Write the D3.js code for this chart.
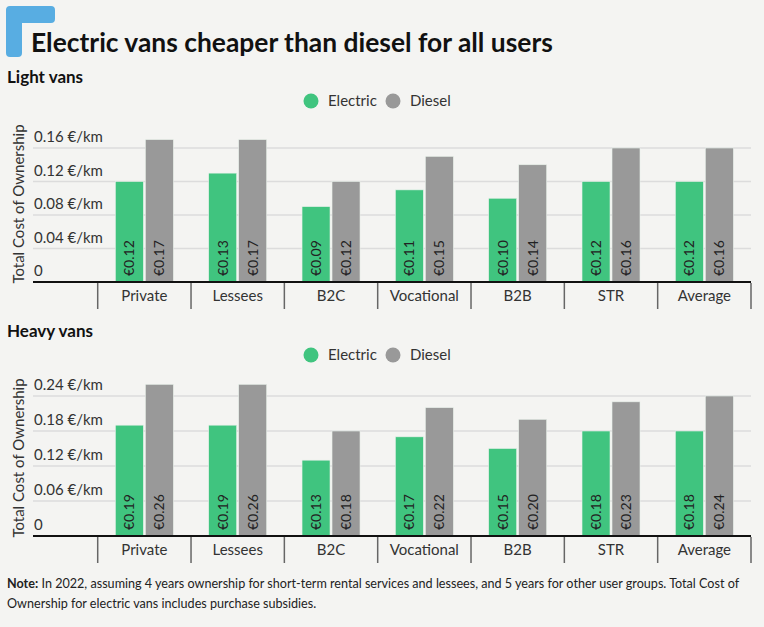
<!DOCTYPE html>
<html>
<head>
<meta charset="utf-8">
<script src="https://cdn.jsdelivr.net/npm/d3@7"></script>
<style>
  html, body { margin: 0; padding: 0; background: #f4f4f2; }
  svg { display: block; font-family: "Source Sans Pro", Lato, "Noto Sans", sans-serif; }
</style>
</head>
<body>
<svg id="chart" width="764" height="627"></svg>
<script>
const categories = ["Private", "Lessees", "B2C", "Vocational", "B2B", "STR", "Average"];
const seriesNames = ["Electric", "Diesel"];
const lightElectric = [0.12, 0.13, 0.09, 0.11, 0.10, 0.12, 0.12];
const lightDiesel   = [0.17, 0.17, 0.12, 0.15, 0.14, 0.16, 0.16];
const heavyElectric = [0.19, 0.19, 0.13, 0.17, 0.15, 0.18, 0.18];
const heavyDiesel   = [0.26, 0.26, 0.18, 0.22, 0.20, 0.23, 0.24];
const lightTicks = [0, 0.04, 0.08, 0.12, 0.16];
const heavyTicks = [0, 0.06, 0.12, 0.18, 0.24];
const colors = { Electric: "#40c47f", Diesel: "#999999" };

const svg = d3.select("#chart");
svg.append("rect").attr("width", 764).attr("height", 627).attr("fill", "#f4f4f2");

// Logo corner
svg.append("path")
  .attr("d", "M6,10 Q6,6 10,6 L51,6 Q55,6 55,10 L55,19 Q55,23 51,23 L22,23 L22,53 Q22,57 18,57 L10,57 Q6,57 6,53 Z")
  .attr("fill", "#58ade2");

svg.append("text").attr("x", 31).attr("y", 52)
  .attr("font-size", 26.4).attr("font-weight", 700).attr("fill", "#111")
  .text("Electric vans cheaper than diesel for all users");

function drawPanel(cfg) {
  const g = svg.append("g");
  g.append("text").attr("x", 7).attr("y", cfg.subY)
    .attr("font-size", 17).attr("font-weight", 700).attr("fill", "#111").text(cfg.title);

  // legend
  const leg = g.append("g").attr("transform", `translate(0,${cfg.legY})`);
  const legX = { Electric: [311, 328], Diesel: [393, 410] };
  seriesNames.forEach(s => {
    leg.append("circle").attr("cx", legX[s][0]).attr("cy", 0).attr("r", 7.5).attr("fill", colors[s]);
    leg.append("text").attr("x", legX[s][1]).attr("y", 5).attr("font-size", 15).attr("fill", "#333").text(s);
  });

  const y = d3.scaleLinear().domain([0, cfg.ticks[cfg.ticks.length - 1]]).range([cfg.zeroY, cfg.topY]);
  const x = d3.scaleBand().domain(categories).range([97.7, 751]).paddingInner(0).paddingOuter(0);
  const x1 = d3.scaleBand().domain(seriesNames).range([0, x.bandwidth()]).paddingInner(1 / 15).paddingOuter(0.589);

  // grid lines + tick labels
  cfg.ticks.forEach(t => {
    if (t > 0) {
      g.append("line").attr("x1", 33).attr("x2", 751).attr("y1", y(t)).attr("y2", y(t))
        .attr("stroke", "#dcdcdc").attr("stroke-width", 1.5);
    }
    g.append("text").attr("x", 34).attr("y", y(t) - 6).attr("font-size", 15).attr("fill", "#333")
      .text(t === 0 ? "0" : d3.format(".2f")(t) + " €/km");
  });

  // bars
  const data = categories.map((c, i) => ({ cat: c, Electric: cfg.electric[i], Diesel: cfg.diesel[i] }));
  const groups = g.selectAll(".grp").data(data).enter().append("g")
    .attr("transform", d => `translate(${x(d.cat)},0)`);
  seriesNames.forEach(s => {
    groups.append("rect")
      .attr("x", x1(s)).attr("width", x1.bandwidth())
      .attr("y", d => y(d[s])).attr("height", d => y(0) - y(d[s]))
      .attr("fill", colors[s]).attr("stroke", "#e8f0ea").attr("stroke-width", 0.6);
    groups.append("text")
      .attr("transform", d => `translate(${x1(s) + x1.bandwidth() / 2 + 5},${y(0) - 6}) rotate(-90)`)
      .attr("font-size", 14).attr("fill", "#222")
      .text(d => "€" + d3.format(".2f")(d[s]));
  });

  // zero axis
  g.append("line").attr("x1", 33).attr("x2", 751).attr("y1", y(0)).attr("y2", y(0))
    .attr("stroke", "#111").attr("stroke-width", 2);

  // category separators
  const bounds = categories.map(c => x(c)).concat([x.range()[1]]);
  bounds.forEach(b => {
    g.append("line").attr("x1", b).attr("x2", b).attr("y1", y(0) + 1).attr("y2", y(0) + 27)
      .attr("stroke", "#666").attr("stroke-width", 1.5);
  });
  categories.forEach(c => {
    g.append("text").attr("x", x(c) + x.bandwidth() / 2).attr("y", y(0) + 19)
      .attr("text-anchor", "middle").attr("font-size", 15).attr("fill", "#333").text(c);
  });

  // y title
  g.append("text")
    .attr("transform", `translate(24,${y(0) - 78}) rotate(-90)`)
    .attr("text-anchor", "middle").attr("font-size", 15).attr("fill", "#333")
    .text("Total Cost of Ownership");
}

drawPanel({ title: "Light vans", subY: 83, legY: 101, zeroY: 282, topY: 148,
  ticks: lightTicks, electric: lightElectric, diesel: lightDiesel });
drawPanel({ title: "Heavy vans", subY: 337, legY: 355, zeroY: 536, topY: 396,
  ticks: heavyTicks, electric: heavyElectric, diesel: heavyDiesel });

// Note
const note = svg.append("text").attr("font-size", 12.6).attr("fill", "#222");
const l1 = note.append("tspan").attr("x", 7).attr("y", 588);
l1.append("tspan").attr("font-weight", 700).text("Note:");
l1.append("tspan").text(" In 2022, assuming 4 years ownership for short-term rental services and lessees, and 5 years for other user groups. Total Cost of");
note.append("tspan").attr("x", 7).attr("y", 608).text("Ownership for electric vans includes purchase subsidies.");
</script>
</body>
</html>
